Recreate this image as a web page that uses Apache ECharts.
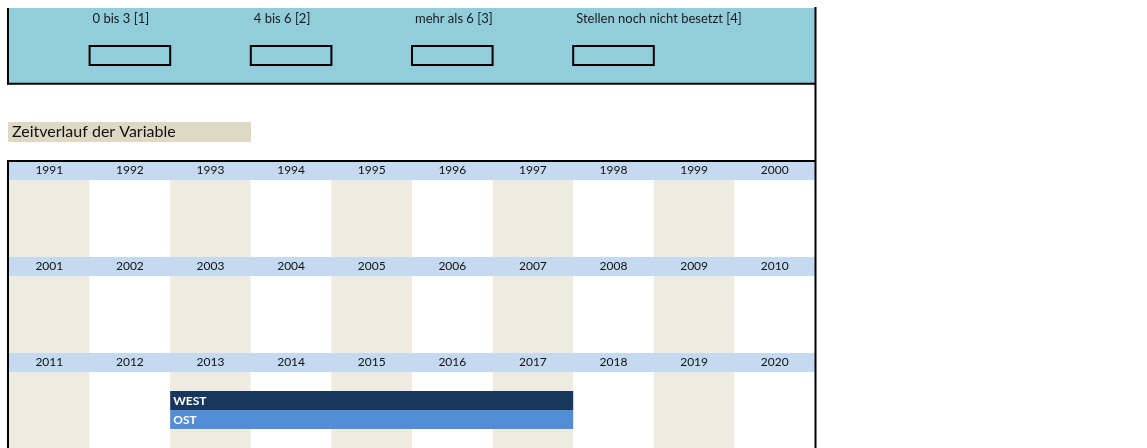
<!DOCTYPE html>
<html>
<head>
<meta charset="utf-8">
<script src="https://cdn.jsdelivr.net/npm/echarts@6/dist/echarts.min.js"></script>
<style>
  html, body { margin: 0; padding: 0; background: #ffffff; }
  #chart { width: 1147px; height: 448px; }
</style>
</head>
<body>
<div id="chart"></div>
<script>
// ---- data ----
const years = [
  1991, 1992, 1993, 1994, 1995, 1996, 1997, 1998, 1999, 2000,
  2001, 2002, 2003, 2004, 2005, 2006, 2007, 2008, 2009, 2010,
  2011, 2012, 2013, 2014, 2015, 2016, 2017, 2018, 2019, 2020
];
const legendLabels = ['0 bis 3 [1]', '4 bis 6 [2]', 'mehr als 6 [3]', 'Stellen noch nicht besetzt [4]'];
const laneNames = ['WEST', 'OST'];
const laneStart = [2013, 2013];
const laneEnd = [2017, 2017];
const titleText = 'Zeitverlauf der Variable';

// ---- layout / style ----
const FONT = 'Lato';
const COLS = 10;
const GRID_LEFT = 9;
const GRID_WIDTH = 806;
const COL_W = GRID_WIDTH / COLS;
const FIRST_BODY_TOP = 180;
const HEADER_H = 19;
const BODY_H = 77;
const ROW_PERIOD = HEADER_H + BODY_H;
const LANE_SLOTS = 4;            // body height is split into four slots; lanes sit in slots 1 and 2
const laneColors = ['#17375E', '#538DD5'];

const rowCount = Math.ceil(years.length / COLS);
const grids = [], xAxes = [], yAxes = [], series = [];

for (let r = 0; r < rowCount; r++) {
  const rowYears = years.slice(r * COLS, r * COLS + COLS);
  grids.push({ left: GRID_LEFT, top: FIRST_BODY_TOP + r * ROW_PERIOD, width: GRID_WIDTH, height: BODY_H });
  xAxes.push({
    type: 'category',
    gridIndex: r,
    position: 'top',
    data: rowYears.map(String),
    boundaryGap: true,
    axisLine: { show: false },
    axisTick: { show: false },
    splitLine: { show: false },
    splitArea: { show: true, interval: 0, areaStyle: { color: ['#EEECE1', '#FFFFFF'] } },
    axisLabel: {
      interval: 0,
      margin: 0,
      width: Math.ceil(COL_W) + 1,
      height: HEADER_H,
      lineHeight: HEADER_H,
      align: 'center',
      verticalAlign: 'bottom',
      backgroundColor: '#C5D9F1',
      color: '#111111',
      fontFamily: FONT,
      fontSize: 12
    }
  });
  yAxes.push({ type: 'value', gridIndex: r, min: 0, max: LANE_SLOTS, inverse: true, show: false });

  // lanes whose span falls inside this row of years
  const first = rowYears[0], last = rowYears[rowYears.length - 1];
  const items = [];
  laneNames.forEach((name, i) => {
    const s = Math.max(laneStart[i], first), e = Math.min(laneEnd[i], last);
    if (s <= e) items.push([s - first, e - first, i]);
  });
  if (items.length) {
    series.push({
      type: 'custom',
      xAxisIndex: r,
      yAxisIndex: r,
      data: items,
      z: 5,
      renderItem: function (params, api) {
        const s = api.value(0), e = api.value(1), lane = api.value(2);
        const band = api.size([1, 0])[0];
        const p0 = api.coord([s, lane + 1]);
        const p1 = api.coord([e, lane + 2]);
        const x0 = p0[0] - band / 2, x1 = p1[0] + band / 2;
        return {
          type: 'group',
          children: [
            { type: 'rect', shape: { x: x0, y: p0[1], width: x1 - x0, height: p1[1] - p0[1] },
              style: { fill: laneColors[lane] } },
            { type: 'text', style: { text: laneNames[lane], x: x0 + 3, y: (p0[1] + p1[1]) / 2 + 1,
              verticalAlign: 'middle', fill: '#FFFFFF', font: 'bold 12px ' + FONT } }
          ]
        };
      }
    });
  }
}

// ---- frame, legend panel and title ----
const graphics = [];
const line = (x1, y1, x2, y2) => ({ type: 'line', z: 100, shape: { x1, y1, x2, y2 },
  style: { stroke: '#000000', lineWidth: 2 } });

graphics.push({ type: 'rect', z: 90, shape: { x: 8, y: 8, width: 807, height: 76 }, style: { fill: '#92CDDC' } });
legendLabels.forEach((label, k) => {
  const colLeft = GRID_LEFT + (2 * k + 1) * COL_W;
  graphics.push({ type: 'text', z: 95, style: { text: label, x: colLeft + 3, y: 19, verticalAlign: 'middle',
    fill: '#1a1a1a', font: '13px ' + FONT } });
  graphics.push({ type: 'rect', z: 95, shape: { x: colLeft, y: 46, width: COL_W, height: 19 },
    style: { fill: 'none', stroke: '#000000', lineWidth: 2 } });
});
graphics.push(line(7, 83.7, 816, 83.7));
graphics.push(line(8, 8, 8, 84.7));
graphics.push(line(815.5, 7, 815.5, 448));

graphics.push({ type: 'rect', z: 90, shape: { x: 8, y: 122, width: 243, height: 20 }, style: { fill: '#DDD9C4' } });
graphics.push({ type: 'text', z: 95, style: { text: titleText, x: 12, y: 132, verticalAlign: 'middle',
  fill: '#111111', font: '16px ' + FONT } });

graphics.push(line(7, 161, 816, 161));
graphics.push(line(8, 160, 8, 448));

const chart = echarts.init(document.getElementById('chart'), null, { renderer: 'canvas' });
chart.setOption({
  animation: false,
  backgroundColor: '#FFFFFF',
  grid: grids,
  xAxis: xAxes,
  yAxis: yAxes,
  series: series,
  graphic: graphics
});
</script>
</body>
</html>
